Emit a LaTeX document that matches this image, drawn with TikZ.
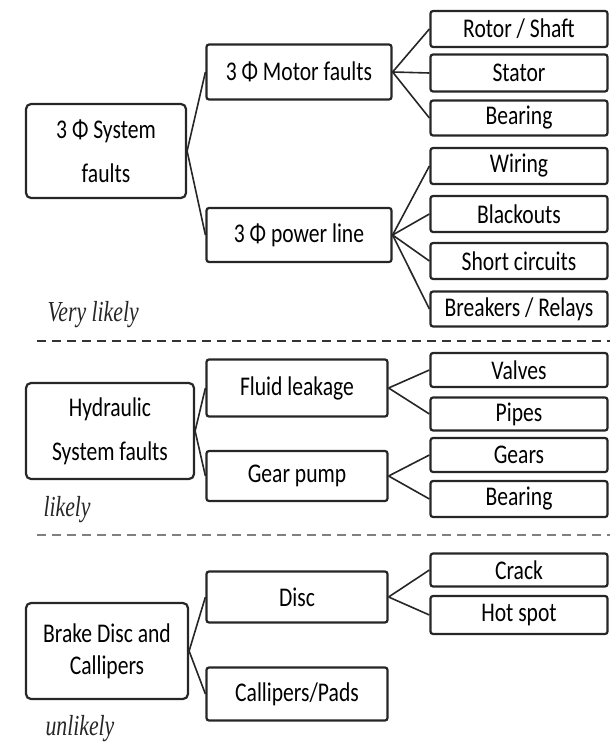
\documentclass[tikz,border=0pt]{standalone}
\usepackage{fontspec}
\setmainfont{Carlito}[FakeStretch=0.8]
\newfontfamily\likelyfont{Liberation Serif}[FakeStretch=0.75]
\begin{document}
\begin{tikzpicture}[x=1pt, y=-1pt,
        faultbox/.style={draw=black!85, line width=2.2pt, rounded corners=2.5pt, inner sep=0pt, align=center, font=\fontsize{27pt}{32pt}\selectfont},
        rootbox/.style={faultbox, rounded corners=5pt},
        midbox/.style={faultbox, minimum width=185pt},
        leafbox/.style={faultbox, minimum width=177pt},
        link/.style={draw=black!85, line width=1.6pt},
        zoneline/.style={line width=2.6pt, dash pattern=on 9pt off 6pt},
        likeness/.style={anchor=west, text=black!85, font=\likelyfont\itshape\fontsize{29pt}{32pt}\selectfont}]
    \useasboundingbox (0,0) rectangle (610,743);

    % three phase system
    \node[rootbox, minimum width=160pt, minimum height=94pt] (sys) at (106,151) {3 Φ System\\[12pt]faults};
    \node[midbox, minimum height=55pt] (motor) at (299,72) {3 Φ Motor faults};
    \node[midbox, minimum height=54pt] (power) at (299,235) {3 Φ power line};
    \node[leafbox, minimum height=36pt] (rotor) at (519,29) {Rotor / Shaft};
    \node[leafbox, minimum height=37pt] (stator) at (519,73) {Stator};
    \node[leafbox, minimum height=35pt] (bearA) at (519,118) {Bearing};
    \node[leafbox, minimum height=36pt] (wiring) at (519,166) {Wiring};
    \node[leafbox, minimum height=36pt] (blackout) at (519,214) {Blackouts};
    \node[leafbox, minimum height=36pt] (short) at (519,261) {Short circuits};
    \node[leafbox, minimum height=35pt] (breaker) at (519,309) {Breakers / Relays};
    \node[likeness] (vlikely) at (44,315) {Very likely};

    \draw[link] (sys.east) -- (motor.west);
    \draw[link] (sys.east) -- (power.west);
    \foreach \leaf in {rotor,stator,bearA}
        \draw[link] (motor.east) -- (\leaf.west);
    \foreach \leaf in {wiring,blackout,short,breaker}
        \draw[link] (power.east) -- (\leaf.west);

    \coordinate (sepA) at (37,341);
    \coordinate (sepAend) at (610,341);
    \draw[zoneline, draw=black!80] (sepA) -- (sepAend);

    % hydraulic system
    \node[rootbox, minimum width=168pt, minimum height=96pt] (hyd) at (110,431) {Hydraulic\\[12pt]System  faults};
    \node[midbox, minimum width=181pt, minimum height=57pt] (fluid) at (297,388) {Fluid leakage};
    \node[midbox, minimum width=181pt, minimum height=50pt] (gear) at (297,476) {Gear pump};
    \node[leafbox, minimum height=34pt] (valves) at (519,370) {Valves};
    \node[leafbox, minimum height=33pt] (pipes) at (519,414) {Pipes};
    \node[leafbox, minimum height=34pt] (gears) at (519,455) {Gears};
    \node[leafbox, minimum height=36pt] (bearB) at (519,499) {Bearing};
    \node[likeness] (likely) at (40,510) {likely};

    \draw[link] (hyd.east) -- (fluid.west);
    \draw[link] (hyd.east) -- (gear.west);
    \foreach \leaf in {valves,pipes}
        \draw[link] (fluid.east) -- (\leaf.west);
    \foreach \leaf in {gears,bearB}
        \draw[link] (gear.east) -- (\leaf.west);

    \coordinate (sepB) at (37,535);
    \coordinate (sepBend) at (610,535);
    \draw[zoneline, draw=black!50] (sepB) -- (sepBend);

    % brake disc and callipers
    \node[rootbox, minimum width=162pt, minimum height=96pt] (brake) at (107,651) {Brake Disc and\\Callipers};
    \node[midbox, minimum width=181pt, minimum height=51pt] (disc) at (297,597) {Disc};
    \node[midbox, minimum width=181pt, minimum height=53pt] (pads) at (297,694) {Callipers/Pads};
    \node[leafbox, minimum height=33pt] (crack) at (519,570) {Crack};
    \node[leafbox, minimum height=38pt] (hotspot) at (519,615) {Hot spot};
    \node[likeness] (unlikely) at (42,729) {unlikely};

    \draw[link] (brake.east) -- (disc.west);
    \draw[link] (brake.east) -- (pads.west);
    \foreach \leaf in {crack,hotspot}
        \draw[link] (disc.east) -- (\leaf.west);
\end{tikzpicture}
\end{document}
